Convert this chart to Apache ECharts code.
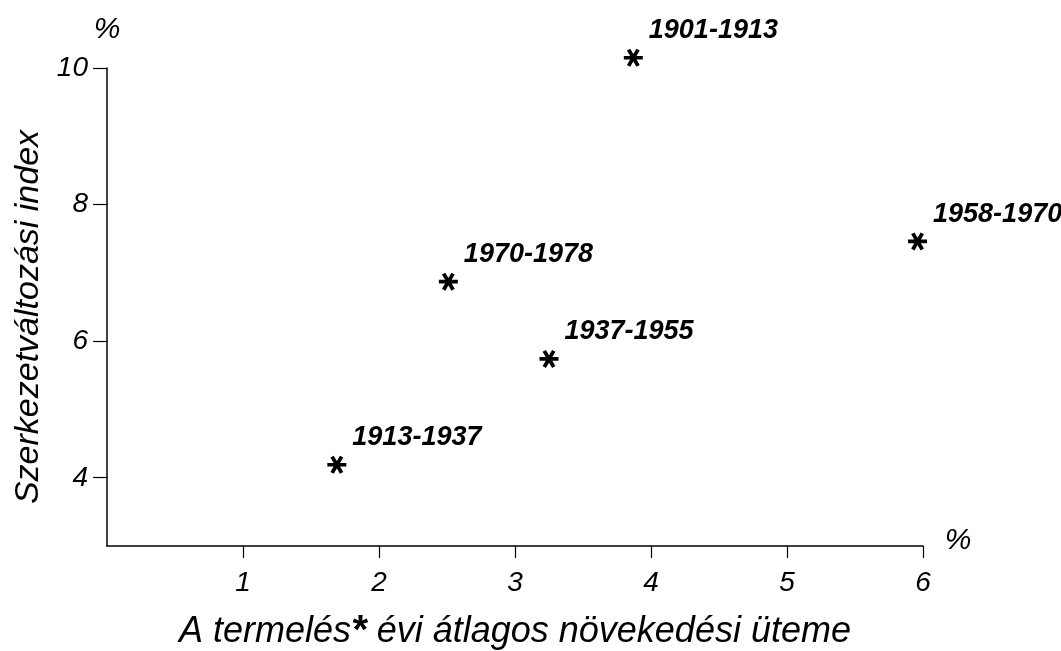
<!DOCTYPE html>
<html>
<head>
<meta charset="utf-8">
<script src="https://cdn.jsdelivr.net/npm/echarts@6/dist/echarts.min.js"></script>
<style>
  html, body { margin: 0; padding: 0; background: #fff; }
  #chart { width: 1061px; height: 651px; }
</style>
</head>
<body>
<div id="chart"></div>
<script>
// Data
const periods     = ['1901-1913', '1958-1970', '1970-1978', '1937-1955', '1913-1937'];
const growthRate  = [3.87, 5.96, 2.51, 3.25, 1.69];   // x: A termelés évi átlagos növekedési üteme (%)
const structIndex = [10.15, 7.46, 6.87, 5.74, 4.19];  // y: Szerkezetváltozási index (%)
const xTickValues = [1, 2, 3, 4, 5, 6];
const yTickValues = [4, 6, 8, 10];

const FONT = '"Liberation Sans", Arial, sans-serif';
const INK = '#000';

// asterisk symbol (three crossing bars: 0°, 60°, 120°)
const asterisk = 'path://M-10,-2L10,-2L10,2L-10,2Z' +
  'M-3.27,-9.66L6.73,7.66L3.27,9.66L-6.73,-7.66Z' +
  'M6.73,-7.66L-3.27,9.66L-6.73,7.66L3.27,-9.66Z';

const points = periods.map((p, i) => ({ name: p, value: [growthRate[i], structIndex[i]] }));

const chart = echarts.init(document.getElementById('chart'));
chart.setOption({
  backgroundColor: '#fff',
  animation: false,
  grid: { left: 107, right: 138, top: 68, bottom: 105, containLabel: false, outerBoundsMode: 'none' },
  xAxis: {
    type: 'value',
    min: 0, max: 6, interval: 1,
    splitLine: { show: false },
    axisLine: { show: true, onZero: false, lineStyle: { color: INK, width: 1.5 } },
    axisTick: { show: true, inside: false, customValues: xTickValues, length: 12, lineStyle: { color: INK, width: 1.2 } },
    axisLabel: {
      customValues: xTickValues, margin: 23,
      color: INK, fontFamily: FONT, fontStyle: 'italic', fontSize: 28
    },
    name: '{a|A termelés}{s|*}{a| évi átlagos növekedési üteme}',
    nameLocation: 'middle',
    nameGap: 66,
    nameTextStyle: {
      color: INK, fontFamily: FONT, fontStyle: 'italic', fontSize: 36,
      rich: {
        a: { color: INK, fontFamily: FONT, fontStyle: 'italic', fontSize: 36 },
        s: { color: INK, fontFamily: FONT, fontStyle: 'italic', fontWeight: 'bold', fontSize: 40 }
      }
    }
  },
  yAxis: {
    type: 'value',
    min: 3, max: 10,
    splitLine: { show: false },
    axisLine: { show: true, onZero: false, lineStyle: { color: INK, width: 1.5 } },
    axisTick: { show: true, inside: false, customValues: yTickValues, length: 14, lineStyle: { color: INK, width: 1.2 } },
    axisLabel: {
      customValues: yTickValues, margin: 19,
      color: INK, fontFamily: FONT, fontStyle: 'italic', fontSize: 28
    },
    name: 'Szerkezetváltozási index',
    nameLocation: 'middle',
    nameGap: 58,
    nameTextStyle: { color: INK, fontFamily: FONT, fontStyle: 'italic', fontSize: 34, padding: [0, 20, 0, 0] }
  },
  graphic: [
    { type: 'text', x: 107, y: 30, style: { text: '%', fill: INK, font: 'italic 30px ' + FONT, textAlign: 'center', textVerticalAlign: 'middle' } },
    { type: 'text', x: 958, y: 541, style: { text: '%', fill: INK, font: 'italic 30px ' + FONT, textAlign: 'center', textVerticalAlign: 'middle' } }
  ],
  series: [{
    type: 'scatter',
    clip: false,
    data: points,
    symbol: asterisk,
    symbolSize: [19, 18],
    itemStyle: { color: INK, opacity: 1 },
    label: {
      show: true,
      formatter: '{b}',
      position: 'right',
      distance: 0,
      offset: [6, -27],
      opacity: 1,
      color: INK, fontFamily: FONT, fontStyle: 'italic', fontWeight: 'bold', fontSize: 27
    }
  }]
});
</script>
</body>
</html>
